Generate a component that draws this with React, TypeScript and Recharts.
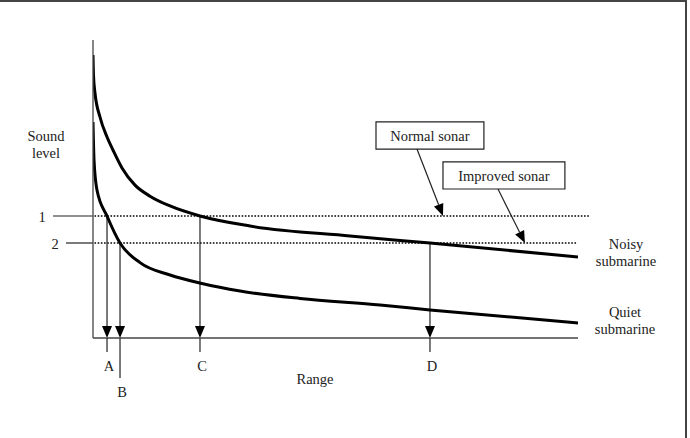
import { LineChart, Line, XAxis, YAxis, ReferenceLine, ReferenceArea } from "recharts";

// Detection curves: sound level received versus range
const noisyRange = [0, 0.1, 0.41, 1.44, 2.89, 4.12, 5.98, 8.66, 11.75, 15.88, 22.06, 32.37, 52.99, 69.48, 100];
const noisyLevel = [94.97, 88.26, 82.21, 74.16, 67.45, 63.09, 57.05, 51.3, 47.6, 44.3, 40.94, 37.58, 34.23, 31.88, 27.18];

const quietRange = [0, 0.21, 0.82, 2.89, 5.57, 9.69, 15.88, 22.47, 30.31, 42.68, 59.18, 69.48, 100];
const quietLevel = [72.48, 59.73, 49.66, 40.94, 31.88, 25.3, 21.14, 18.29, 15.77, 13.26, 11.07, 9.4, 5.03];

// Detection thresholds ("1" normal sonar, "2" improved sonar)
const thresholdNames = ["1", "2"];
const thresholdLevels = [40.94, 31.88];

// Ranges where the curves cross the thresholds
const detectNames = ["A", "B", "C", "D"];
const detectRanges = [2.89, 5.57, 22.06, 69.48];
const detectThreshold = [0, 1, 0, 1];

const noisyData = noisyRange.map((r, i) => ({ range: r, level: noisyLevel[i] }));
const quietData = quietRange.map((r, i) => ({ range: r, level: quietLevel[i] }));

const FONT = "Liberation Serif, Times New Roman, serif";
const INK = "#222";
const textStyle = { fontFamily: FONT, fontSize: 14.5 };

const Arrow = (props: any) => {
    const { x1, y1, x2, y2 } = props;
    const a = Math.atan2(y2 - y1, x2 - x1);
    const len = 12;
    const half = 5;
    const bx = x2 - len * Math.cos(a);
    const by = y2 - len * Math.sin(a);
    const px = -Math.sin(a) * half;
    const py = Math.cos(a) * half;
    return (
        <g>
            <line x1={x1} y1={y1} x2={bx} y2={by} stroke={INK} strokeWidth={1.2} />
            <path d={`M${x2},${y2} L${bx + px},${by + py} L${bx - px},${by - py} Z`} fill="#000" />
        </g>
    );
};

const DetectTick = (props: any) => {
    const { x, y, index } = props;
    const drop = detectNames[index] === "B" ? 40 : 14;
    return (
        <g>
            <line x1={x} y1={y} x2={x} y2={y + drop} stroke={INK} strokeWidth={1.2} />
            <text x={x + 2} y={y + drop + 19} textAnchor="middle" fontFamily={FONT} fontSize={14.5} style={textStyle} fill={INK}>
                {detectNames[index]}
            </text>
        </g>
    );
};

const Caption = ({ x, y, children }: any) => (
    <text x={x} y={y} textAnchor="middle" fontFamily={FONT} fontSize={14.5} style={textStyle} fill={INK}>
        {children}
    </text>
);

export default function App() {
    return (
        <div style={{ position: "absolute", left: 0, top: 0, width: 690, height: 438, background: "#fff" }}>
            <LineChart width={690} height={438} margin={{ top: 40, right: 112, bottom: 99, left: 92 }}>
                <XAxis
                    type="number"
                    dataKey="range"
                    domain={[0, 100]}
                    allowDataOverflow
                    height={1}
                    ticks={detectRanges}
                    interval={0}
                    tick={<DetectTick />}
                    tickLine={false}
                    tickSize={0}
                    tickMargin={0}
                    axisLine={{ stroke: "#444", strokeWidth: 1.3 }}
                />
                <YAxis
                    type="number"
                    domain={[0, 100]}
                    allowDataOverflow
                    width={1}
                    tick={false}
                    tickLine={false}
                    axisLine={{ stroke: "#444", strokeWidth: 1.3 }}
                />

                {/* threshold lines: short solid tick left of the axis, dotted across the plot */}
                {thresholdLevels.map((lv, i) => (
                    <ReferenceLine
                        key={`tick-${i}`}
                        segment={[{ x: i === 0 ? -8.25 : -5.57, y: lv }, { x: 0, y: lv }]}
                        stroke={INK}
                        strokeWidth={1.2}
                        ifOverflow="visible"
                    />
                ))}
                {thresholdLevels.map((lv, i) => (
                    <ReferenceLine
                        key={`dots-${i}`}
                        segment={[{ x: 0.3, y: lv }, { x: i === 0 ? 102.5 : 99.6, y: lv }]}
                        stroke="#000"
                        strokeWidth={1.6}
                        strokeDasharray="1.6 1.6"
                        ifOverflow="visible"
                    />
                ))}

                {/* drop arrows from each crossing down to the range axis */}
                {detectRanges.map((r, i) => (
                    <ReferenceLine
                        key={`drop-${i}`}
                        segment={[{ x: r, y: thresholdLevels[detectThreshold[i]] }, { x: r, y: 0 }]}
                        shape={Arrow}
                        ifOverflow="visible"
                    />
                ))}

                {/* sonar callouts */}
                <ReferenceArea
                    x1={58.35}
                    x2={80.6}
                    y1={63.4}
                    y2={72.5}
                    fill="#fff"
                    fillOpacity={1}
                    stroke={INK}
                    strokeWidth={1.2}
                    ifOverflow="visible"
                    label={{ value: "Normal sonar", position: "center", fontFamily: FONT, fontSize: 14.5, style: textStyle, fill: INK }}
                />
                <ReferenceArea
                    x1={72.16}
                    x2={97.3}
                    y1={50.0}
                    y2={59.1}
                    fill="#fff"
                    fillOpacity={1}
                    stroke={INK}
                    strokeWidth={1.2}
                    ifOverflow="visible"
                    label={{ value: "Improved sonar", position: "center", fontFamily: FONT, fontSize: 14.5, style: textStyle, fill: INK }}
                />
                <ReferenceLine segment={[{ x: 66.8, y: 63.4 }, { x: 72.16, y: thresholdLevels[0] }]} shape={Arrow} ifOverflow="visible" />
                <ReferenceLine segment={[{ x: 83.5, y: 50.0 }, { x: 89.07, y: thresholdLevels[1] }]} shape={Arrow} ifOverflow="visible" />

                <Line data={noisyData} dataKey="level" type="monotone" stroke="#000" strokeWidth={3} dot={false} isAnimationActive={false} />
                <Line data={quietData} dataKey="level" type="monotone" stroke="#000" strokeWidth={3} dot={false} isAnimationActive={false} />
            </LineChart>

            <svg width={690} height={438} style={{ position: "absolute", left: 0, top: 0, pointerEvents: "none" }}>
                <line x1={0} y1={1} x2={687} y2={1} stroke="#444" strokeWidth={2} />
                <line x1={686} y1={0} x2={686} y2={438} stroke="#444" strokeWidth={2} />
                <Caption x={46} y={141}>Sound</Caption>
                <Caption x={46} y={158}>level</Caption>
                <Caption x={42} y={222}>{thresholdNames[0]}</Caption>
                <Caption x={55} y={249}>{thresholdNames[1]}</Caption>
                <Caption x={315} y={384}>Range</Caption>
                <Caption x={626} y={249}>Noisy</Caption>
                <Caption x={626} y={266}>submarine</Caption>
                <Caption x={625} y={317}>Quiet</Caption>
                <Caption x={625} y={334}>submarine</Caption>
            </svg>
        </div>
    );
}
